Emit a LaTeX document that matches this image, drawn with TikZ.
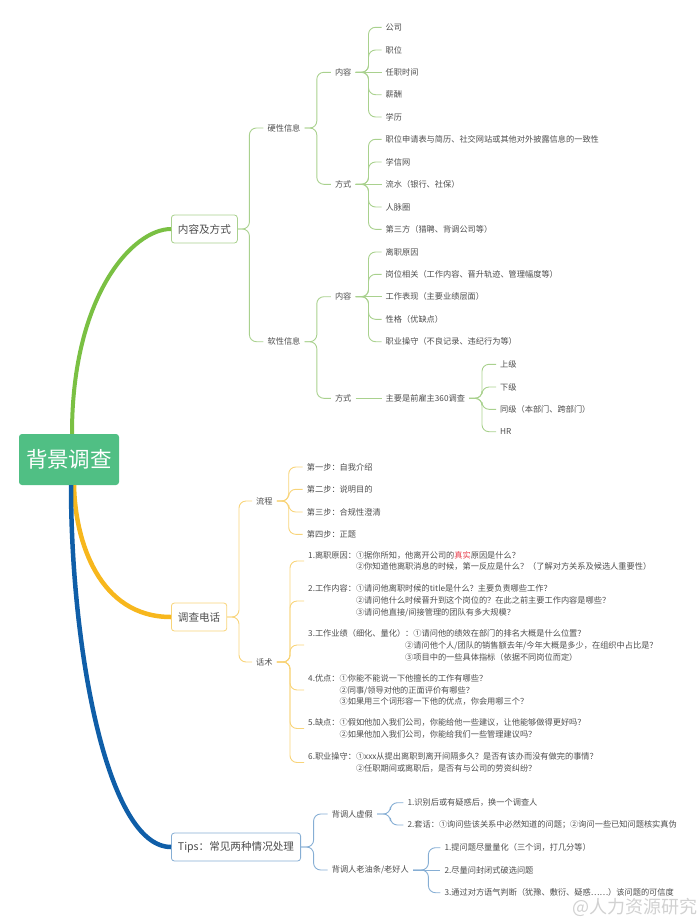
\documentclass[tikz,border=0pt]{standalone}
\usepackage{fontspec}
\newfontfamily\cjk{Noto Sans CJK SC}
\definecolor{RootGreen}{HTML}{50BF84}
\definecolor{BranchGreen}{HTML}{7AC043}
\definecolor{LightGreen}{HTML}{A9D18E}
\definecolor{BranchOrange}{HTML}{F7B71D}
\definecolor{LightOrange}{HTML}{F8D47A}
\definecolor{BranchBlue}{HTML}{0F5EA8}
\definecolor{LightBlue}{HTML}{86AED4}
\definecolor{TextGray}{HTML}{4D4D4D}
\definecolor{TrueRed}{HTML}{E8414E}

\tikzset{
  leaf/.style={anchor=west, inner xsep=4pt, inner ysep=1pt, text=TextGray, align=left,
    font=\cjk\fontsize{8.2}{11.9}\selectfont},
  topic/.style={anchor=west, draw, rounded corners=3pt, line width=0.8pt, fill=white,
    inner xsep=6.5pt, minimum height=28pt, text=TextGray, font=\cjk\fontsize{10.6}{12}\selectfont},
  gline/.style={LightGreen, line width=0.9pt, rounded corners=7pt},
  oline/.style={LightOrange, line width=0.9pt, rounded corners=7pt},
  bline/.style={LightBlue, line width=0.9pt, rounded corners=7pt},
}

\begin{document}
\begin{tikzpicture}[x=1pt,y=1pt,yscale=-1,xscale=1]
		\useasboundingbox (0,0) rectangle (700,919);

		% Central topic
		\node[fill=RootGreen, rounded corners=3pt, minimum width=100pt, minimum height=51pt, text=white,
			font=\cjk\fontsize{21.5}{24}\selectfont] (bj) at (69,459.5) {背景调查};

		% Main topics
		\node[topic, draw=LightGreen] (nrfs) at (171,229) {内容及方式};
		\node[topic, draw=LightOrange] (dcdh) at (171,617) {调查电话};
		\node[topic, draw=LightBlue] (tips) at (171,847) {Tips：常见两种情况处理};

		% Thick branches from the central topic
		\draw[BranchGreen, line width=4pt] ([xshift=3pt]bj.north) .. controls (72,295) and (133,229) .. (nrfs.west);
		\draw[BranchOrange, line width=4.5pt] ([xshift=5pt]bj.south) .. controls (75,541) and (99,617) .. (dcdh.west);
		\draw[BranchBlue, line width=4.5pt] ([xshift=2pt]bj.south) .. controls (71,648) and (107,847) .. (tips.west);

		% ---- Green part: 内容及方式 ----
		\node[leaf] (yx) at (263.4,128) {硬性信息};
		\node[leaf] (rx) at (263.4,341.7) {软性信息};
		\foreach \c in {yx,rx} \draw[gline] (nrfs.east) -| ([xshift=-14pt]\c.west) -- (\c.west);

		\node[leaf] (yxnr) at (330.8,72.3) {内容};
		\node[leaf] (yxfs) at (330.8,184.3) {方式};
		\node[leaf] (rxnr) at (330.8,296.7) {内容};
		\node[leaf] (rxfs) at (330.8,398.3) {方式};
		\foreach \c in {yxnr,yxfs} \draw[gline] (yx.east) -| ([xshift=-14pt]\c.west) -- (\c.west);
		\foreach \c in {rxnr,rxfs} \draw[gline] (rx.east) -| ([xshift=-14pt]\c.west) -- (\c.west);

		% hard facts: contents
		\node[leaf] (gs) at (381.5,27.3) {公司};
		\node[leaf] (zw) at (381.5,50) {职位};
		\node[leaf] (rzsj) at (381.5,72.3) {任职时间};
		\node[leaf] (xc) at (381.5,94.7) {薪酬};
		\node[leaf] (xl) at (381.5,117) {学历};
		\foreach \c in {gs,zw,xc,xl} \draw[gline] (yxnr.east) -| ([xshift=-13pt]\c.west) -- (\c.west);
		\draw[gline] (yxnr.east) -- (rzsj.west);

		% hard facts: ways
		\node[leaf] (yz) at (381.5,139.3) {职位申请表与简历、社交网站或其他对外披露信息的一致性};
		\node[leaf] (xxw) at (381.5,162) {学信网};
		\node[leaf] (ls) at (381.5,184.3) {流水（银行、社保）};
		\node[leaf] (rmq) at (381.5,207) {人脉圈};
		\node[leaf] (dsf) at (381.5,229.3) {第三方（猎聘、背调公司等）};
		\foreach \c in {yz,xxw,rmq,dsf} \draw[gline] (yxfs.east) -| ([xshift=-13pt]\c.west) -- (\c.west);
		\draw[gline] (yxfs.east) -- (ls.west);

		% soft facts: contents
		\node[leaf] (lzyy) at (381.5,252) {离职原因};
		\node[leaf] (gwxg) at (381.5,274.3) {岗位相关（工作内容、晋升轨迹、管理幅度等）};
		\node[leaf] (gzbx) at (381.5,296.7) {工作表现（主要业绩层面）};
		\node[leaf] (xg) at (381.5,319.3) {性格（优缺点）};
		\node[leaf] (zycs) at (381.5,341.7) {职业操守（不良记录、违纪行为等）};
		\foreach \c in {lzyy,gwxg,xg,zycs} \draw[gline] (rxnr.east) -| ([xshift=-13pt]\c.west) -- (\c.west);
		\draw[gline] (rxnr.east) -- (gzbx.west);

		% soft facts: ways
		\node[leaf] (dc360) at (381.5,398.3) {主要是前雇主360调查};
		\draw[gline] (rxfs.east) -- (dc360.west);
		\node[leaf] (sj) at (496,364.3) {上级};
		\node[leaf] (xji) at (496,387) {下级};
		\node[leaf] (tj) at (496,409.3) {同级（本部门、跨部门）};
		\node[leaf] (hr) at (496,431.7) {HR};
		\foreach \c in {sj,xji,tj,hr} \draw[gline] (dc360.east) -| ([xshift=-14pt]\c.west) -- (\c.west);

		% ---- Orange part: 调查电话 ----
		\node[leaf] (lc) at (252,501) {流程};
		\node[leaf] (hs) at (252,662) {话术};
		\foreach \c in {lc,hs} \draw[oline] (dcdh.east) -| ([xshift=-13pt]\c.west) -- (\c.west);

		\node[leaf] (b1) at (302.7,467) {第一步：自我介绍};
		\node[leaf] (b2) at (302.7,489.3) {第二步：说明目的};
		\node[leaf] (b3) at (302.7,512) {第三步：合规性澄清};
		\node[leaf] (b4) at (302.7,534.3) {第四步：正题};
		\foreach \c in {b1,b2,b3,b4} \draw[oline] (lc.east) -| ([xshift=-14pt]\c.west) -- (\c.west);

		\node[leaf] (h1) at (304,561) {1.离职原因：①据你所知，他离开公司的\textcolor{TrueRed}{真实}原因是什么？\\
			\phantom{1.离职原因：}②你知道他离职消息的时候，第一反应是什么？（了解对方关系及候选人重要性）};
		\node[leaf] (h2) at (304,601) {2.工作内容：①请问他离职时候的title是什么？主要负责哪些工作？\\
			\phantom{2.工作内容：}②请问他什么时候晋升到这个岗位的？在此之前主要工作内容是哪些？\\
			\phantom{2.工作内容：}③请问他直接/间接管理的团队有多大规模？};
		\node[leaf] (h3) at (304,645) {3.工作业绩（细化、量化）：①请问他的绩效在部门的排名大概是什么位置？\\
			\phantom{3.工作业绩（细化、量化）}②请问他个人/团队的销售额去年/今年大概是多少，在组织中占比是？\\
			\phantom{3.工作业绩（细化、量化）}③项目中的一些具体指标（依据不同岗位而定）};
		\node[leaf] (h4) at (304,690) {4.优点：①你能不能说一下他擅长的工作有哪些？\\
			\phantom{4.优点：}②同事/领导对他的正面评价有哪些？\\
			\phantom{4.优点：}③如果用三个词形容一下他的优点，你会用哪三个？};
		\node[leaf] (h5) at (304,728.5) {5.缺点：①假如他加入我们公司，你能给他一些建议，让他能够做得更好吗？\\
			\phantom{5.缺点：}②如果他加入我们公司，你能给我们一些管理建议吗？};
		\node[leaf] (h6) at (304,762.5) {6.职业操守：①xxx从提出离职到离开间隔多久？是否有该办而没有做完的事情？\\
			\phantom{6.职业操守：}②任职期间或离职后，是否有与公司的劳资纠纷？};
		\foreach \c in {h1,h2,h3,h4,h5,h6} \draw[oline] (hs.east) -| ([xshift=-14pt]\c.west) -- (\c.west);

		% ---- Blue part: Tips ----
		\node[leaf] (xj) at (327.6,814) {背调人虚假};
		\node[leaf] (ly) at (327.6,870) {背调人老油条/老好人};
		\foreach \c in {xj,ly} \draw[bline] (tips.east) -| ([xshift=-14pt]\c.west) -- (\c.west);

		\node[leaf] (x1) at (403.4,802.7) {1.识别后或有疑惑后，换一个调查人};
		\node[leaf] (x2) at (403.4,825) {2.套话：①询问些该关系中必然知道的问题；②询问一些已知问题核实真伪};
		\foreach \c in {x1,x2} \draw[bline] (xj.east) -| ([xshift=-13pt]\c.west) -- (\c.west);

		\node[leaf] (y1) at (440.4,847.7) {1.提问题尽量量化（三个词，打几分等）};
		\node[leaf] (y2) at (440.4,870) {2.尽量问封闭式破选问题};
		\node[leaf] (y3) at (440.4,892.7) {3.通过对方语气判断（犹豫、敷衍、疑惑……）该问题的可信度};
		\foreach \c in {y1,y3} \draw[bline] (ly.east) -| ([xshift=-12pt]\c.west) -- (\c.west);
		\draw[bline] (ly.east) -- (y2.west);

		% watermark
		\node[anchor=west, inner sep=0pt, text=black!18, font=\cjk\fontsize{18}{19}\selectfont] (wm) at (572,907.5) {@人力资源研究};
	\end{tikzpicture}
\end{document}
